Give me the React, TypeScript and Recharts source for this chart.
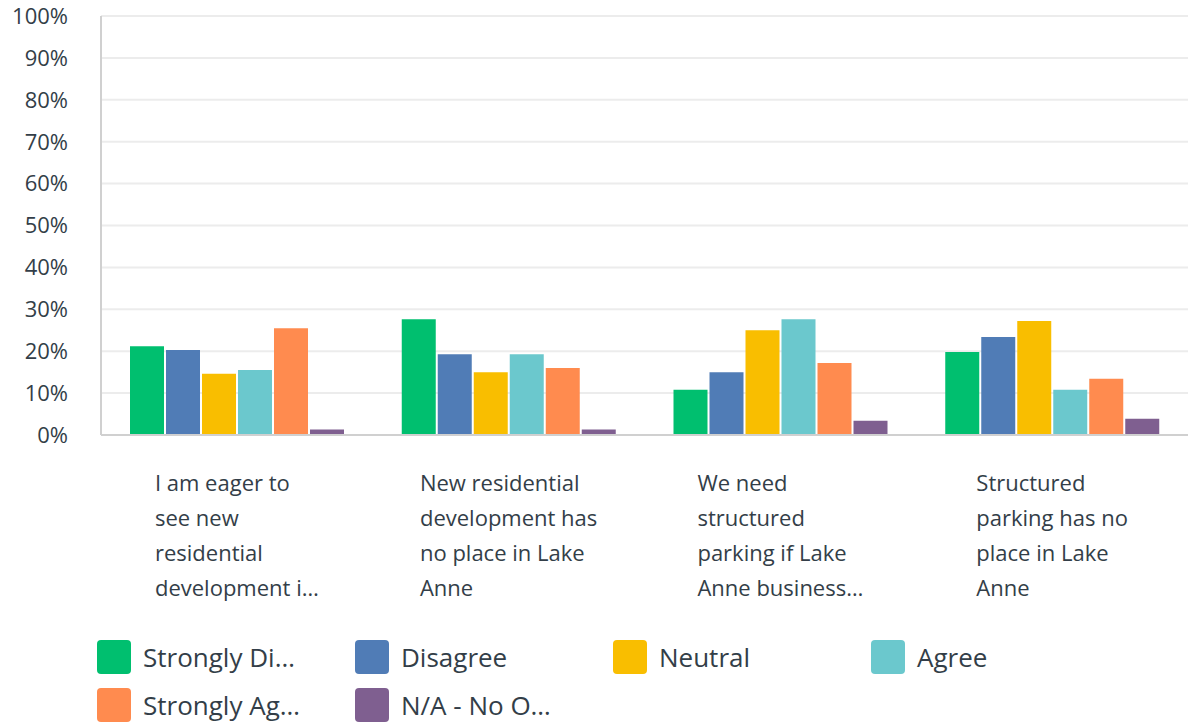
import React from "react";
import { BarChart, Bar, XAxis, YAxis, CartesianGrid } from "recharts";

// category labels, already wrapped/truncated like the survey export
const categoryLines = [
  ["I am eager to", "see new", "residential", "development i…"],
  ["New residential", "development has", "no place in Lake", "Anne"],
  ["We need", "structured", "parking if Lake", "Anne business…"],
  ["Structured", "parking has no", "place in Lake", "Anne"],
];

const seriesNames = ["Strongly Di…", "Disagree", "Neutral", "Agree", "Strongly Ag…", "N/A - No O…"];
const seriesColors = ["#00bf6f", "#507cb6", "#f9be00", "#6bc8cd", "#ff8b4f", "#7f5f90"];

const stronglyDisagree = [21.2, 27.6, 10.8, 19.8];
const disagree = [20.3, 19.3, 15.0, 23.4];
const neutral = [14.6, 15.0, 25.0, 27.2];
const agree = [15.5, 19.3, 27.6, 10.8];
const stronglyAgree = [25.5, 16.0, 17.2, 13.4];
const noOpinion = [1.3, 1.3, 3.4, 3.9];

const yTicks = [0, 10, 20, 30, 40, 50, 60, 70, 80, 90, 100];

const seriesValues = [stronglyDisagree, disagree, neutral, agree, stronglyAgree, noOpinion];
const keys = ["s0", "s1", "s2", "s3", "s4", "s5"];

const data = categoryLines.map(function (lines, i) {
  var row: any = { name: String(i) };
  seriesValues.forEach(function (vals, s) {
    row[keys[s]] = vals[i];
  });
  return row;
});

const FONT = "'Open Sans', sans-serif";
const TEXT = "#333e48";

var measureCtx: any = null;
function textWidth(s: string) {
  if (!measureCtx) {
    measureCtx = document.createElement("canvas").getContext("2d");
    measureCtx.font = "22px 'Open Sans'";
  }
  return measureCtx.measureText(s).width;
}

// lines are left-aligned, the block as a whole sits centred under the group
function CategoryTick(props: any) {
  var x = props.x;
  var y = props.y;
  var lines = categoryLines[Number(props.payload.value)] || [];
  var maxW = Math.max.apply(null, lines.map(textWidth));
  var left = x - maxW / 2;
  return (
    <g>
      {lines.map(function (line, i) {
        return (
          <text
            key={i}
            x={left}
            y={y + 48 + i * 35}
            fill={TEXT}
            fontSize={22}
            fontFamily={FONT}
            textAnchor="start"
          >
            {line}
          </text>
        );
      })}
    </g>
  );
}

export default function App() {
  return (
    <div style={{ position: "absolute", left: 0, top: 0, width: 1190, height: 722, background: "#fff", fontFamily: FONT }}>
      <BarChart
        width={1190}
        height={630}
        data={data}
        margin={{ top: 16, right: 2, left: 0, bottom: 0 }}
        barCategoryGap={29}
        barGap={2}
      >
        <CartesianGrid vertical={false} stroke="#ececec" strokeWidth={2} />
        <XAxis
          dataKey="name"
          height={195}
          interval={0}
          tickLine={false}
          axisLine={{ stroke: "#d0d0d0", strokeWidth: 2 }}
          tick={<CategoryTick />}
        />
        <YAxis
          width={101}
          domain={[0, 100]}
          ticks={yTicks}
          interval={0}
          tickLine={false}
          tickSize={0}
          tickMargin={33}
          axisLine={{ stroke: "#d0d0d0", strokeWidth: 2 }}
          tickFormatter={function (v: number) { return v + "%"; }}
          tick={{ fill: TEXT, fontSize: 22, fontFamily: FONT }}
        />
        {keys.map(function (k, s) {
          return <Bar key={k} dataKey={k} fill={seriesColors[s]} isAnimationActive={false} />;
        })}
      </BarChart>
      {seriesNames.map(function (name, s) {
        var col = s % 4;
        var row = Math.floor(s / 4);
        return (
          <div
            key={name}
            style={{
              position: "absolute",
              left: 97 + col * 258,
              top: 640 + row * 48,
              height: 34,
              display: "flex",
              alignItems: "center",
              whiteSpace: "nowrap",
            }}
          >
            <div style={{ width: 34, height: 34, borderRadius: 4, background: seriesColors[s] }} />
            <span style={{ marginLeft: 12, fontSize: 26, color: TEXT }}>{name}</span>
          </div>
        );
      })}
    </div>
  );
}
